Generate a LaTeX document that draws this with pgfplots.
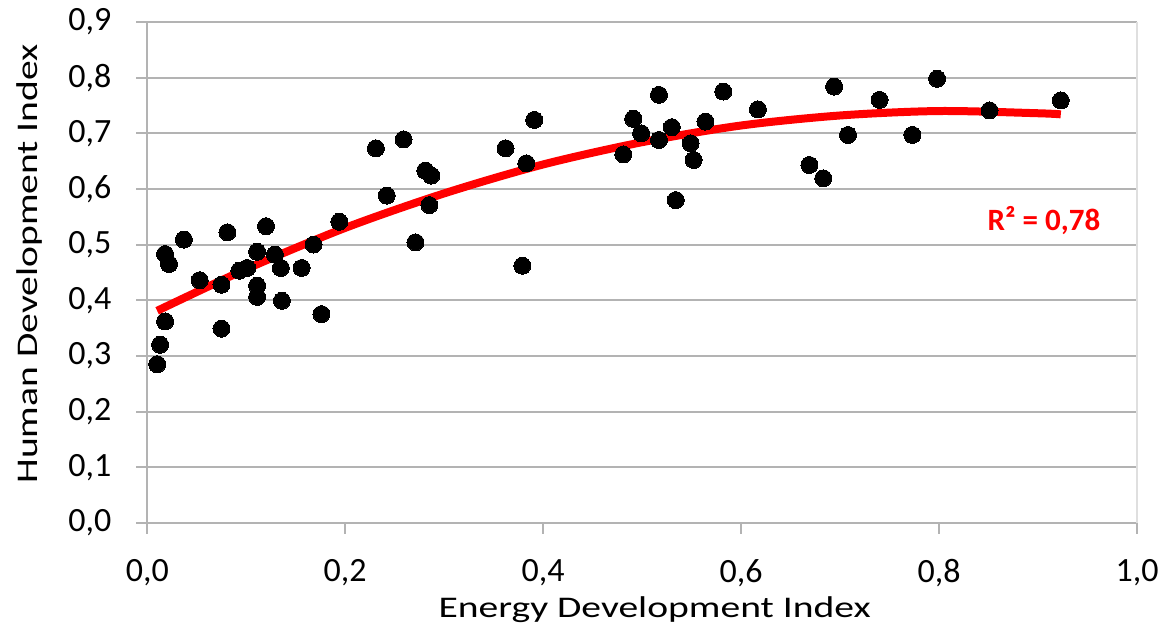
\documentclass[border=0pt]{standalone}
\usepackage{pgfplots}
\pgfplotsset{compat=1.18}
\usepackage{fontspec}
\setmainfont{Carlito}
\usepackage{graphicx}

\definecolor{gridgray}{HTML}{B3B3B3}
\definecolor{trendred}{HTML}{FF0000}

% Energy Development Index vs Human Development Index
\pgfplotstableread{
x     y
0.010 0.285
0.013 0.320
0.018 0.362
0.018 0.483
0.022 0.465
0.037 0.509
0.053 0.436
0.075 0.428
0.075 0.349
0.081 0.522
0.093 0.453
0.101 0.458
0.111 0.487
0.111 0.426
0.111 0.406
0.120 0.533
0.129 0.482
0.135 0.458
0.136 0.399
0.156 0.458
0.168 0.500
0.176 0.375
0.194 0.541
0.231 0.673
0.242 0.588
0.259 0.689
0.271 0.504
0.281 0.633
0.287 0.624
0.285 0.571
0.362 0.673
0.379 0.462
0.383 0.646
0.391 0.724
0.481 0.662
0.491 0.726
0.499 0.700
0.517 0.769
0.517 0.688
0.530 0.711
0.534 0.580
0.549 0.682
0.552 0.652
0.564 0.721
0.582 0.775
0.617 0.743
0.669 0.643
0.683 0.619
0.694 0.784
0.708 0.697
0.740 0.760
0.773 0.697
0.798 0.798
0.851 0.741
0.923 0.759
}\edidata

\begin{document}
\begin{tikzpicture}
\begin{axis}[
  name=ax,
  scale only axis,
  width=495pt, height=250.5pt,
  xmin=0, xmax=1, ymin=0, ymax=0.9,
  xtick={0,0.2,0.4,0.6,0.8,1},
  ytick={0,0.1,0.2,0.3,0.4,0.5,0.6,0.7,0.8,0.9},
  axis lines=left,
  axis line style={-, draw=gridgray, line width=1pt},
  ymajorgrids=true,
  major grid style={draw=gridgray, line width=1pt},
  tick align=outside,
  major tick length=5.5pt,
  tick style={draw=gridgray, line width=1pt},
  /pgf/number format/.cd, use comma, fixed, fixed zerofill, precision=1,
  assume math mode=true,
  /pgfplots/.cd,
  ticklabel style={font=\fontsize{17}{20}\selectfont, inner sep=0pt},
  xticklabel style={anchor=north, yshift=-12.5pt},
  yticklabel style={anchor=east, xshift=-12.25pt},
  xlabel={\scalebox{1.32}[1]{Energy Development Index}},
  ylabel={\scalebox{1.32}[1]{Human Development Index}},
  xlabel style={at={(axis description cs:0.5126,-0.1896)}, anchor=base,
    font=\fontsize{15}{18}\selectfont},
  ylabel style={at={(axis description cs:-0.1111,0.517)}, anchor=base,
    font=\fontsize{15}{18}\selectfont},
  clip=false,
]
\draw[gray!25, line width=0.8pt] (rel axis cs:1,0) -- (rel axis cs:1,1);

\addplot[only marks, mark=*, mark size=4.25pt,
  mark options={fill=black, draw=black, line width=0pt}] table {\edidata};

% polynomial trend line (order 2)
\addplot[trendred, line width=4pt, smooth, no marks] coordinates {
(0.010,0.381) (0.100,0.456) (0.200,0.530) (0.300,0.592) (0.400,0.644)
(0.500,0.684) (0.600,0.714) (0.700,0.732) (0.800,0.740) (0.900,0.736)
(0.923,0.734)
};

\node[anchor=base, text=trendred, font=\fontsize{15.5}{18}\selectfont\bfseries]
  at (axis cs:0.906,0.525) {R² = 0,78};
\end{axis}
\pgfresetboundingbox
\path[use as bounding box] ([xshift=-73.65pt,yshift=-51pt]ax.south west)
  rectangle ([xshift=12.5pt,yshift=11pt]ax.north east);
\end{tikzpicture}
\end{document}
